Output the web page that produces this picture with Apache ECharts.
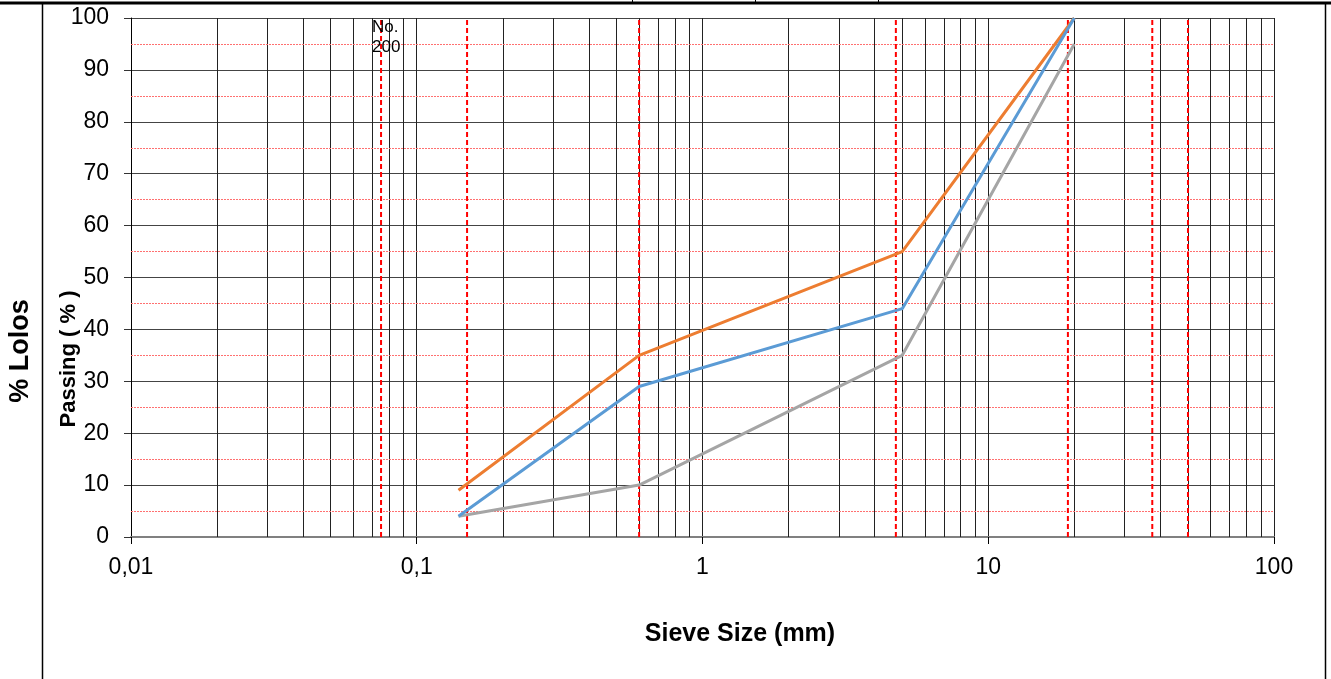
<!DOCTYPE html>
<html>
<head>
<meta charset="utf-8">
<script src="https://cdn.jsdelivr.net/npm/echarts@6/dist/echarts.min.js"></script>
<style>
html,body{margin:0;padding:0;background:#fff;}
#c{width:1331px;height:679px;}
</style>
</head>
<body>
<div id="c"></div>
<script>
// ---- data ----
const sieveSizes = [0.14, 0.6, 5, 20];
const upperLimit = [9, 35, 55, 100];   // orange
const sample     = [4, 29, 44, 100];   // blue
const lowerLimit = [4, 10, 35, 95];    // gray
const sieveMarks = [0.075, 0.15, 0.6, 4.75, 19, 37.5, 50];
const minorGridX = [0.02,0.03,0.04,0.05,0.06,0.07,0.08,0.09,
                    0.2,0.3,0.4,0.5,0.6,0.7,0.8,0.9,
                    2,3,4,5,6,7,8,9,
                    20,30,40,50,60,70,80,90];
const halfRows = [5,15,25,35,45,55,65,75,85,95];
const xTickValues = [0.01, 0.1, 1, 10, 100];
const xTickLabels = ['0,01', '0,1', '1', '10', '100'];
const yTickLabels = ['0','10','20','30','40','50','60','70','80','90','100'];

const chart = echarts.init(document.getElementById('c'), null, {renderer: 'canvas'});

function pairs(ys) { return sieveSizes.map((x, i) => [x, ys[i]]); }

const sieveSeries = sieveMarks.map(v => ({
  type: 'line', name: 'sieve ' + v, data: [[v, 0], [v, 100]], z: 3, silent: true,
  showSymbol: false, symbol: 'none',
  lineStyle: {color: '#ff0000', width: 2, type: [5, 3]}
}));

const option = {
  animation: false,
  backgroundColor: '#ffffff',
  grid: {left: 131, right: 57, top: 18, bottom: 142, containLabel: false},
  xAxis: {
    type: 'log', logBase: 10, min: 0.01, max: 100,
    axisLine: {show: true, lineStyle: {color: '#808080', width: 2}},
    axisTick: {show: true, length: 7, lineStyle: {color: '#000', width: 1}},
    axisLabel: {
      margin: 19, color: '#000', fontSize: 23, fontFamily: 'Liberation Sans, Arial',
      formatter: function (v) {
        for (let i = 0; i < xTickValues.length; i++) {
          if (Math.abs(Math.log10(v) - Math.log10(xTickValues[i])) < 1e-6) return xTickLabels[i];
        }
        return '';
      }
    },
    splitLine: {show: true, lineStyle: {color: '#222', width: 1}},
    minorTick: {show: false}, minorSplitLine: {show: false}
  },
  yAxis: {
    type: 'value', min: 0, max: 100, interval: 10,
    axisLine: {show: true, lineStyle: {color: '#000', width: 1}},
    axisTick: {show: true, length: 7, inside: false, lineStyle: {color: '#333'}},
    axisLabel: {
      margin: 22, color: '#000', fontSize: 23, fontFamily: 'Liberation Sans, Arial',
      formatter: function (v) { return yTickLabels[Math.round(v / 10)]; }
    },
    splitLine: {show: true, lineStyle: {color: '#444', width: 1}}
  },
  series: [
    {
      type: 'line', name: 'grid', data: [], z: 1, silent: true,
      markLine: {
        silent: true, symbol: 'none', animation: false, z: 1,
        label: {show: false},
        data: [].concat(
          minorGridX.map(v => ({xAxis: v, lineStyle: {color: '#222', width: 1, type: 'solid'}})),
          halfRows.map(v => ({yAxis: v, lineStyle: {color: '#ff7070', width: 1, type: [2, 1]}}))
        )
      }
    }
  ].concat(sieveSeries, [
    {
      type: 'line', name: 'Batas Atas', data: pairs(upperLimit), z: 5,
      showSymbol: false, symbol: 'none', lineStyle: {color: '#ED7D31', width: 3}, itemStyle: {color: '#ED7D31'}
    },
    {
      type: 'line', name: 'Sampel', data: pairs(sample), z: 5,
      showSymbol: false, symbol: 'none', lineStyle: {color: '#5B9BD5', width: 3}, itemStyle: {color: '#5B9BD5'}
    },
    {
      type: 'line', name: 'Batas Bawah', data: pairs(lowerLimit), z: 4,
      showSymbol: false, symbol: 'none', lineStyle: {color: '#A5A5A5', width: 3}, itemStyle: {color: '#A5A5A5'}
    }
  ])
};
chart.setOption(option);

// Texts and frame placed relative to the chart's own scales
const p200 = chart.convertToPixel({gridIndex: 0}, [0.075, 100]);
chart.setOption({
  graphic: [
    {type: 'line', shape: {x1: 0, y1: 3, x2: 1331, y2: 3}, style: {stroke: '#000', lineWidth: 3}, z: 100},
    {type: 'line', shape: {x1: 632.5, y1: 0, x2: 632.5, y2: 3}, style: {stroke: '#000', lineWidth: 1}, z: 100},
    {type: 'line', shape: {x1: 755.5, y1: 0, x2: 755.5, y2: 3}, style: {stroke: '#000', lineWidth: 1}, z: 100},
    {type: 'line', shape: {x1: 878.5, y1: 0, x2: 878.5, y2: 3}, style: {stroke: '#000', lineWidth: 1}, z: 100},
    {type: 'line', shape: {x1: 42.5, y1: 3, x2: 42.5, y2: 679}, style: {stroke: '#000', lineWidth: 1.5}, z: 100},
    {type: 'line', shape: {x1: 1325.5, y1: 3, x2: 1325.5, y2: 679}, style: {stroke: '#000', lineWidth: 1.5}, z: 100},
    {
      type: 'text', x: p200[0] - 9, y: p200[1] - 1, z: 100,
      style: {text: 'No.\n200', font: '17px "Liberation Sans", Arial', fill: '#000', lineHeight: 20, textAlign: 'left', textVerticalAlign: 'top'}
    },
    {
      type: 'text', x: 740, y: 634, z: 100,
      style: {text: 'Sieve Size (mm)', font: 'bold 25px "Liberation Sans", Arial', fill: '#000', textAlign: 'center', textVerticalAlign: 'middle'}
    },
    {
      type: 'text', x: 69, y: 359, rotation: Math.PI / 2, z: 100,
      style: {text: 'Passing ( % )', font: 'bold 22px "Liberation Sans", Arial', fill: '#000', textAlign: 'center', textVerticalAlign: 'middle'}
    },
    {
      type: 'text', x: 21, y: 351, rotation: Math.PI / 2, z: 100,
      style: {text: '% Lolos', font: 'bold 27px "Liberation Sans", Arial', fill: '#000', textAlign: 'center', textVerticalAlign: 'middle'}
    }
  ]
});
</script>
</body>
</html>
